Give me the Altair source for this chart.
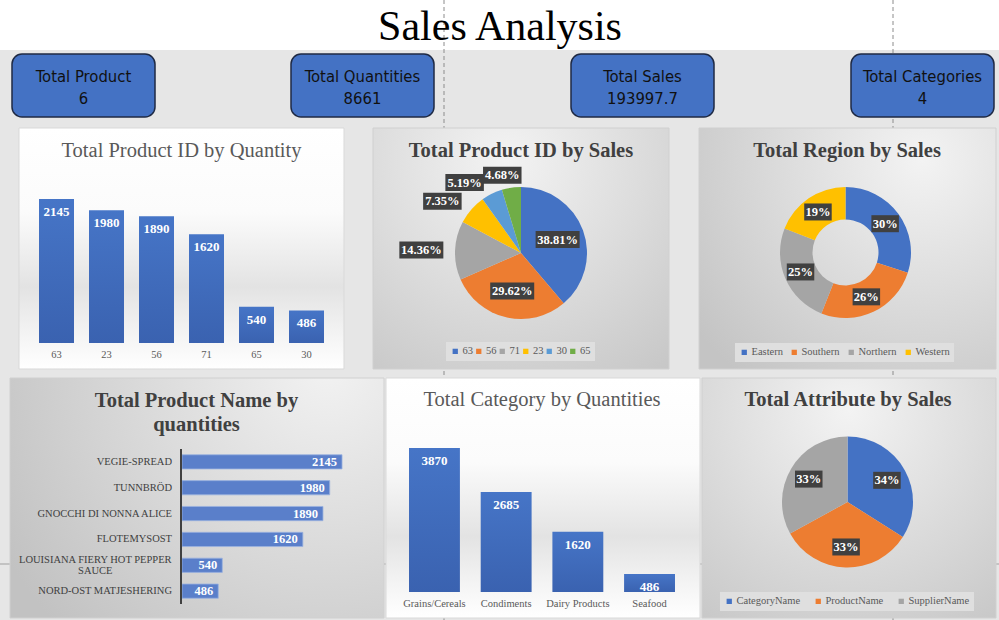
import altair as alt
import pandas as pd

# ---------------- chart values ----------------
kpi_names = ["Total Product", "Total Quantities", "Total Sales", "Total Categories"]
kpi_values = ["6", "8661", "193997.7", "4"]

qty_product_ids = ["63", "23", "56", "71", "65", "30"]
qty_by_product_id = [2145, 1980, 1890, 1620, 540, 486]

sales_product_ids = ["63", "56", "71", "23", "30", "65"]
sales_share_by_id = [38.81, 29.62, 14.36, 7.35, 5.19, 4.68]

region_names = ["Eastern", "Southern", "Northern", "Western"]
region_sales_share = [30, 26, 25, 19]

product_names = ["VEGIE-SPREAD", "TUNNBRÖD", "GNOCCHI DI NONNA ALICE", "FLOTEMYSOST",
                 "LOUISIANA FIERY HOT PEPPER\nSAUCE", "NORD-OST MATJESHERING"]
qty_by_product_name = [2145, 1980, 1890, 1620, 540, 486]

category_names = ["Grains/Cereals", "Condiments", "Dairy Products", "Seafood"]
qty_by_category = [3870, 2685, 1620, 486]

attribute_names = ["CategoryName", "ProductName", "SupplierName"]
attribute_sales_share = [34, 33, 33]

# ---------------- style ----------------
SERIF = "Liberation Serif, Times New Roman, serif"
NARROW = "Liberation Sans Narrow, Arial Narrow, DejaVu Sans Condensed, sans-serif"
BLUE, ORANGE, GRAY, GOLD, LBLUE, GREEN = "#4472C4", "#ED7D31", "#A5A5A5", "#FFC000", "#5B9BD5", "#70AD47"
ONE = pd.DataFrame({"k": [0]})


def deco_rect(x, x2, y, y2, **kw):
    return alt.Chart(ONE).mark_rect(**kw).encode(
        x=alt.value(x), x2=alt.value(x2), y=alt.value(y), y2=alt.value(y2))


def deco_text(text, x, y, **kw):
    return alt.Chart(ONE).mark_text(text=text, **kw).encode(x=alt.value(x), y=alt.value(y))


def deco_vrule(x, y, y2, **kw):
    return alt.Chart(ONE).mark_rule(**kw).encode(x=alt.value(x), y=alt.value(y), y2=alt.value(y2))


def deco_hrule(x, x2, y, **kw):
    return alt.Chart(ONE).mark_rule(**kw).encode(x=alt.value(x), x2=alt.value(x2), y=alt.value(y))


def radial(cx, cy, c0, c1, r=0.95):
    return alt.RadialGradient(gradient="radial", x1=cx, y1=cy, r1=0, x2=cx, y2=cy, r2=r,
                              stops=[alt.GradientStop(color=c0, offset=0),
                                     alt.GradientStop(color=c1, offset=1)])


def linear_v(stops):
    return alt.LinearGradient(gradient="linear", x1=0, y1=0, x2=0, y2=1,
                              stops=[alt.GradientStop(color=c, offset=o) for o, c in stops])


BAND_BG = linear_v([(0, "#ffffff"), (0.35, "#fbfbfb"), (0.66, "#e3e3e3"), (0.86, "#f4f4f4"), (1, "#ffffff")])
BAR_FILL = linear_v([(0, "#4675c7"), (1, "#3a62b0")])


def vbar_panel(cats, vals, x_range, pad_inner, y_domain, y_range, label_y):
    df = pd.DataFrame({"cat": cats, "val": vals})
    xs = alt.Scale(domain=cats, range=x_range, paddingInner=pad_inner, paddingOuter=0.3)
    ys = alt.Scale(domain=y_domain, range=y_range, nice=False)
    x = alt.X("cat:N", scale=xs, axis=None)
    y = alt.Y("val:Q", scale=ys, axis=None)
    base = alt.Chart(df)
    bars = base.mark_bar(fill=BAR_FILL).encode(x=x, y=y)
    nums = base.mark_text(font=SERIF, fontSize=13, fontWeight="bold", color="white",
                          baseline="middle", dy=13).encode(x=x, y=y, text=alt.Text("val:Q", format="d"))
    ticks = base.mark_text(font=SERIF, fontSize=10.5, color="#595959", baseline="middle").encode(
        x=x, y=alt.value(label_y), text="cat:N")
    return alt.layer(bars, nums, ticks)


def hbar_panel(cats, vals):
    lines = [c.split("\n") for c in cats]
    df = pd.DataFrame({"cat": cats, "val": vals,
                       "nlines": [len(l) for l in lines],
                       "first_len": [len(l[0]) for l in lines]})
    ys = alt.Scale(domain=cats, range=[447, 606], paddingInner=0.45, paddingOuter=0.3)
    xs = alt.Scale(domain=[0, 2500], range=[182, 368.5], nice=False)
    x = alt.X("val:Q", scale=xs, axis=None)
    y = alt.Y("cat:N", scale=ys, axis=None)
    base = alt.Chart(df)
    bars = base.mark_bar(fill="#5a7fca", stroke="#9bb3df", strokeWidth=0.8).encode(x=x, y=y)
    nums = base.mark_text(font=SERIF, fontSize=12.5, fontWeight="bold", color="white",
                          align="right", baseline="middle", dx=-5).encode(
        x=x, y=y, text=alt.Text("val:Q", format="d"))
    single = base.transform_filter("datum.nlines == 1").mark_text(
        font=SERIF, fontSize=10.5, color="#404040", align="right", baseline="middle").encode(
        x=alt.value(172), y=y, text="cat:N")
    # wrapped labels: centred block whose longest line ends at the same right edge
    multi = base.transform_filter("datum.nlines > 1").transform_calculate(
        lx="172 - datum.first_len * 2.95"
    ).mark_text(font=SERIF, fontSize=10.5, color="#404040", align="center", baseline="middle",
                lineBreak="\n", lineHeight=11.5, dy=-5.75).encode(
        x=alt.X("lx:Q", scale=None), y=y, text="cat:N")
    axis_line = deco_vrule(181, 449, 604, stroke="#404040", strokeWidth=2)
    return alt.layer(bars, nums, single, multi, axis_line)


def pie_panel(cats, shares, colors, cx, cy, r, inner, r_in, out_below, fmt, lx, ly, col_pad):
    df = pd.DataFrame({"cat": cats, "share": shares, "idx": list(range(len(cats)))})
    base = alt.Chart(df)
    color = alt.Color("cat:N", scale=alt.Scale(domain=cats, range=colors),
                      legend=alt.Legend(orient="none", legendX=lx, legendY=ly, direction="horizontal",
                                        title=None, symbolType="square", symbolSize=28,
                                        symbolStrokeWidth=0, labelFont=SERIF, labelFontSize=10.5,
                                        labelColor="#595959", fillColor="#dfdfdf", padding=4,
                                        columnPadding=col_pad, labelOffset=2))
    arcs = base.mark_arc(radius=r, innerRadius=inner).encode(
        theta=alt.Theta("share:Q", stack=True), color=color, order=alt.Order("idx:Q"),
        x=alt.value(cx), y=alt.value(cy))
    rg = r + 4
    pos = base.transform_window(
        cum="sum(share)", sort=[alt.SortField("idx")]
    ).transform_joinaggregate(
        total="sum(share)"
    ).transform_calculate(
        mid="(datum.cum - datum.share / 2) / datum.total * 2 * PI",
        s="sin(datum.mid)",
        c="cos(datum.mid)",
        txt=f"format(datum.share / datum.total, '{fmt}')",
        bw="length(datum.txt) * 5.5 + 11",
        outer=f"datum.share < {out_below}",
        lx=(f"datum.outer ? {cx} + {rg} * datum.s + (datum.s < 0 ? -1 : 1) * datum.bw / 2 * "
            f"min(1.35, abs(datum.s) * 3) : {cx} + {r_in} * datum.s"),
        ly=f"datum.outer ? {cy} - {rg} * datum.c - 8.5 * datum.c : {cy} - {r_in} * datum.c",
        bx1="datum.lx - datum.bw / 2",
        bx2="datum.lx + datum.bw / 2",
        by1="datum.ly - 8.5",
        by2="datum.ly + 8.5",
    )
    boxes = pos.mark_rect(fill="#404040").encode(
        x=alt.X("bx1:Q", scale=None), x2="bx2:Q", y=alt.Y("by1:Q", scale=None), y2="by2:Q")
    texts = pos.mark_text(font=SERIF, fontSize=12.5, fontWeight="bold", color="white",
                          baseline="middle").encode(
        x=alt.X("lx:Q", scale=None), y=alt.Y("ly:Q", scale=None), text="txt:N")
    return alt.layer(arcs, boxes, texts)


layers = []
# page background
layers.append(deco_rect(0, 999, 50, 620, fill="#e6e6e6"))
# page-break dashed lines
for xx in (444, 893):
    layers.append(deco_vrule(xx, 0, 620, stroke="#8c8c8c", strokeWidth=1, strokeDash=[4, 3]))
layers.append(deco_hrule(0, 999, 564, stroke="#a0a0a0", strokeWidth=1))
# main title
layers.append(deco_text("Sales Analysis", 500, 40, font=SERIF, fontSize=42, color="#000000",
                        align="center", baseline="alphabetic"))
# KPI cards
kpi_left = [12, 291, 571, 851]
for left, name, val in zip(kpi_left, kpi_names, kpi_values):
    layers.append(deco_rect(left, left + 143, 54, 117, fill=BLUE, stroke="#1f2a44",
                            strokeWidth=1.5, cornerRadius=10))
    layers.append(deco_text(name, left + 71.5, 82, font=NARROW, fontSize=16.5, color="#111111",
                            align="center", baseline="alphabetic"))
    layers.append(deco_text(val, left + 71.5, 103.5, font=NARROW, fontSize=16.5, color="#111111",
                            align="center", baseline="alphabetic"))

# panel backgrounds
layers.append(deco_rect(19, 344, 128, 369, fill=BAND_BG, stroke="#d9d9d9", strokeWidth=1))
layers.append(deco_rect(373, 669, 128, 369, fill=radial(0.45, 0.2, "#f3f3f3", "#c4c4c4"),
                        stroke="#d0d0d0", strokeWidth=1))
layers.append(deco_rect(699, 996, 128, 369, fill=radial(0.75, 0.2, "#f3f3f3", "#c4c4c4"),
                        stroke="#d0d0d0", strokeWidth=1))
layers.append(deco_rect(10, 384, 378, 618, fill=radial(0.85, 0.15, "#f2f2f2", "#c2c2c2", 1.0),
                        stroke="#d0d0d0", strokeWidth=1))
layers.append(deco_rect(386, 700, 378, 618, fill=BAND_BG, stroke="#d9d9d9", strokeWidth=1))
layers.append(deco_rect(702, 996, 378, 618, fill=radial(0.5, 0.2, "#f3f3f3", "#c4c4c4"),
                        stroke="#d0d0d0", strokeWidth=1))

# panel titles
TN = dict(font=SERIF, fontSize=20.5, color="#595959", align="center", baseline="alphabetic")
TB = dict(font=SERIF, fontSize=20.5, fontWeight="bold", color="#404040", align="center",
          baseline="alphabetic")
layers.append(deco_text("Total Product ID by Quantity", 181.5, 157, **TN))
layers.append(deco_text("Total Product ID by Sales", 521, 157, **TB))
layers.append(deco_text("Total Region by Sales", 847, 157, **TB))
layers.append(deco_text("Total Product Name by", 196.5, 407, **TB))
layers.append(deco_text("quantities", 196.5, 431, **TB))
layers.append(deco_text("Total Category by Quantities", 542, 406, **TN))
layers.append(deco_text("Total Attribute by Sales", 848, 406, **TB))

# charts
layers.append(vbar_panel(qty_product_ids, qty_by_product_id, [24, 339], 0.3,
                         [0, 2500], [343, 175.25], 355))
layers.append(vbar_panel(category_names, qty_by_category, [387.5, 696.5], 0.29,
                         [0, 4500], [592, 424.6], 604))
layers.append(hbar_panel(product_names, qty_by_product_name))
layers.append(pie_panel(sales_product_ids, sales_share_by_id, [BLUE, ORANGE, GRAY, GOLD, LBLUE, GREEN],
                        521, 253, 66, 0, 39, 15, ".2%", 446, 342, 0.5))
layers.append(pie_panel(region_names, region_sales_share, [BLUE, ORANGE, GRAY, GOLD],
                        845.5, 252.5, 65.5, 33, 49, 0, ".0%", 735, 343, 6))
layers.append(pie_panel(attribute_names, attribute_sales_share, [BLUE, ORANGE, GRAY],
                        847.5, 502, 65.5, 0, 45, 0, ".0%", 720, 592, 12))

chart = alt.layer(*layers).resolve_scale(
    x="independent", y="independent", theta="independent", color="independent"
).properties(
    width=999, height=620, padding=0, background="white",
    autosize=alt.AutoSizeParams(type="none"),
).configure_view(stroke=None)

chart.save("out.html", embed_options={"renderer": "svg", "actions": False})
